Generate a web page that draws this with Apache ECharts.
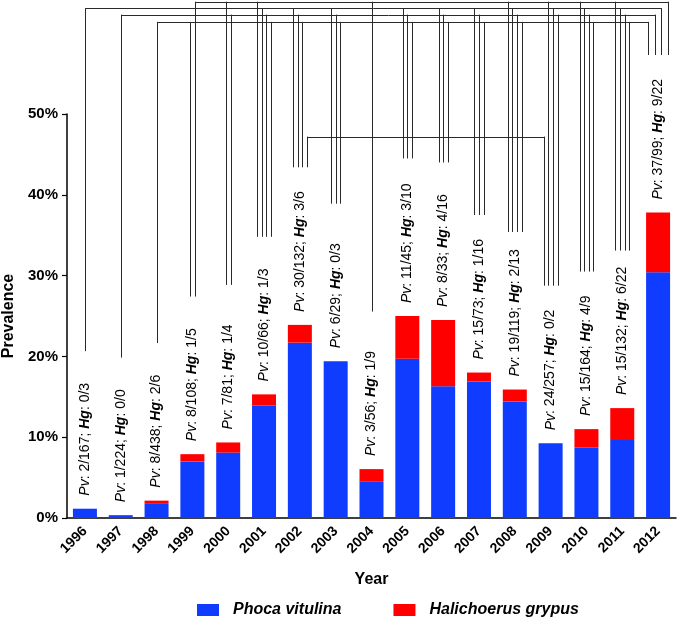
<!DOCTYPE html>
<html>
<head>
<meta charset="utf-8">
<script src="https://cdn.jsdelivr.net/npm/echarts@6/dist/echarts.min.js"></script>
<style>
  html, body { margin: 0; padding: 0; background: #fff; }
  #chart { width: 677px; height: 619px; }
</style>
</head>
<body>
<div id="chart"></div>
<script>
const years = ['1996', '1997', '1998', '1999', '2000', '2001', '2002', '2003', '2004',
  '2005', '2006', '2007', '2008', '2009', '2010', '2011', '2012']
// prevalence (%) split by species
const pvPrev = [1.15, 0.35, 1.75, 7.0, 8.1, 13.9, 21.7, 19.4, 4.55, 19.7, 16.3, 16.9, 14.4, 9.25, 8.7, 9.65, 30.4]
const hgPrev = [0, 0, 0.4, 0.9, 1.25, 1.4, 2.2, 0, 1.5, 5.3, 8.2, 1.1, 1.5, 0, 2.3, 3.95, 7.4]
// positives / tested, per species
const pvCounts = ['2/167', '1/224', '8/438', '8/108', '7/81', '10/66', '30/132', '6/29', '3/56',
  '11/45', '8/33', '15/73', '19/119', '24/257', '15/164', '15/132', '37/99']
const hgCounts = ['0/3', '0/0', '2/6', '1/5', '1/4', '1/3', '3/6', '0/3', '1/9',
  '3/10', '4/16', '1/16', '2/13', '0/2', '4/9', '6/22', '9/22']

// comparison brackets: height (%), [first year index, last year index], years with a drop
const bracketLevels = [63.9, 63.1, 62.3, 61.4, 47.2]
const bracketSpans = [[3, 16], [0, 16], [1, 16], [2, 16], [6, 13]]
const bracketDrops = [
  [3, 4, 5, 8, 12, 13, 14, 15, 16],
  [0, 5, 6, 7, 9, 10, 11, 12, 13, 14, 15, 16],
  [1, 4, 5, 6, 7, 9, 10, 11, 12, 13, 14, 15, 16],
  [2, 3, 5, 6, 7, 9, 10, 11, 12, 14, 15, 16],
  [6, 13]
]

const FONT = 'Liberation Sans, Arial, sans-serif'

function renderBrackets(params, api) {
  const children = []
  const xAt = {}
  const lineStyle = { stroke: '#2a2a2a', lineWidth: 1 }
  years.forEach((y, j) => {
    const here = []
    bracketDrops.forEach((list, k) => { if (list.includes(j)) here.push(k) })
    const ending = here.filter(k => bracketSpans[k][1] === j)
      .sort((a, b) => bracketLevels[a] - bracketLevels[b])
    const passing = here.filter(k => bracketSpans[k][0] < j && bracketSpans[k][1] > j)
      .sort((a, b) => bracketLevels[b] - bracketLevels[a])
    const starting = here.filter(k => bracketSpans[k][0] === j)
    const order = ending.concat(passing, starting)
    const sp = ending.length > 1 ? 6.5 : 4.6
    const dropEnd = pvPrev[j] + hgPrev[j] + 19.5
    const cx = api.coord([j, 0])[0]
    order.forEach((k, n) => {
      const x = Math.round(cx + (n - (order.length - 1) / 2) * sp) + 0.5
      xAt[k + '-' + j] = x
      const y1 = api.coord([j, bracketLevels[k]])[1]
      const y2 = api.coord([j, dropEnd])[1]
      children.push({ type: 'line', shape: { x1: x, y1: y1, x2: x, y2: y2 }, style: lineStyle })
    })
  })
  bracketSpans.forEach((span, k) => {
    const y = Math.round(api.coord([span[0], bracketLevels[k]])[1]) + 0.5
    children.push({
      type: 'line',
      shape: { x1: xAt[k + '-' + span[0]], y1: y, x2: xAt[k + '-' + span[1]], y2: y },
      style: lineStyle
    })
  })
  return { type: 'group', children }
}

const chart = echarts.init(document.getElementById('chart'))
chart.setOption({
  animation: false,
  textStyle: { fontFamily: FONT },
  grid: { left: 67, right: 1, top: 114, bottom: 101, containLabel: false, outerBoundsMode: 'none' },
  legend: {
    left: 192,
    top: 597,
    itemWidth: 22,
    itemHeight: 12,
    itemGap: 52,
    icon: 'rect',
    textStyle: { fontFamily: FONT, fontSize: 16, fontWeight: 'bold', fontStyle: 'italic', color: '#000', padding: [0, 0, 0, 9] },
    data: ['Phoca vitulina', 'Halichoerus grypus']
  },
  xAxis: {
    type: 'category',
    data: years,
    name: 'Year',
    nameLocation: 'middle',
    nameGap: 54,
    nameTextStyle: { fontFamily: FONT, fontSize: 16, fontWeight: 'bold', color: '#000' },
    axisLine: { lineStyle: { color: '#000', width: 1.5 } },
    axisTick: { alignWithLabel: true, length: 5, lineStyle: { color: '#000', width: 1.2 } },
    axisLabel: { rotate: 45, margin: 11, fontFamily: FONT, fontSize: 14, fontWeight: 'bold', color: '#000' }
  },
  yAxis: {
    type: 'value',
    min: 0,
    max: 50,
    interval: 10,
    name: 'Prevalence',
    nameLocation: 'middle',
    nameGap: 49,
    nameTextStyle: { fontFamily: FONT, fontSize: 16, fontWeight: 'bold', color: '#000' },
    splitLine: { show: false },
    axisLine: { show: true, lineStyle: { color: '#000', width: 1.5 } },
    axisTick: { show: true, length: 5, lineStyle: { color: '#000', width: 1.2 } },
    axisLabel: { formatter: '{value}%', margin: 9, fontFamily: FONT, fontSize: 15, fontWeight: 'bold', color: '#000' }
  },
  series: [
    {
      name: 'Phoca vitulina',
      type: 'bar',
      stack: 'prev',
      barWidth: 24,
      itemStyle: { color: '#0f3cff' },
      data: pvPrev
    },
    {
      name: 'Halichoerus grypus',
      type: 'bar',
      stack: 'prev',
      barWidth: 24,
      itemStyle: { color: '#ff0000' },
      data: hgPrev,
      label: {
        show: true,
        position: 'top',
        rotate: 90,
        align: 'left',
        verticalAlign: 'middle',
        distance: 13,
        fontFamily: FONT,
        fontSize: 14,
        color: '#000',
        formatter: p => '{i|Pv}: ' + pvCounts[p.dataIndex] + '; {b|Hg}: ' + hgCounts[p.dataIndex],
        rich: {
          i: { fontFamily: FONT, fontSize: 14, fontStyle: 'italic', color: '#000' },
          b: { fontFamily: FONT, fontSize: 14, fontStyle: 'italic', fontWeight: 'bold', color: '#000' }
        }
      }
    },
    {
      type: 'custom',
      silent: true,
      clip: false,
      z: 1,
      renderItem: renderBrackets,
      data: [[0, 0]]
    }
  ]
})
</script>
</body>
</html>
